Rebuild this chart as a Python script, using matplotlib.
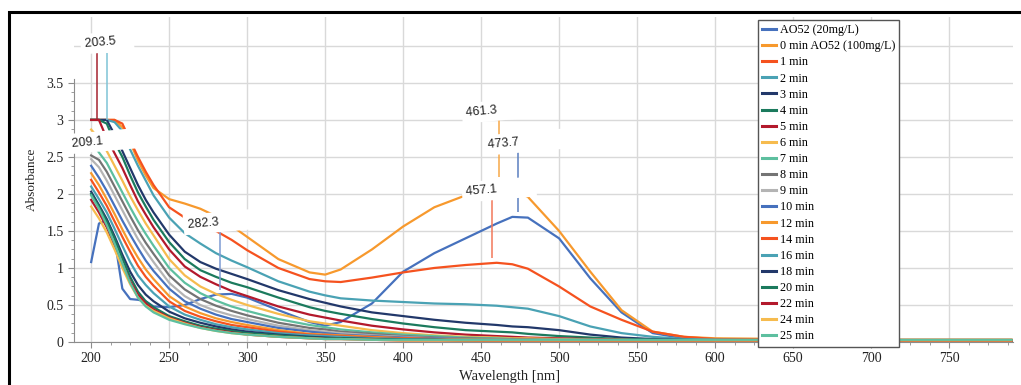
import numpy as np
import matplotlib
matplotlib.use("Agg")
import matplotlib.pyplot as plt
from matplotlib.ticker import MultipleLocator, FixedLocator, FuncFormatter
from matplotlib.patches import Rectangle

# wavelength grid (nm)
wl = [200, 205, 210, 215, 220, 225, 230, 235, 240, 250, 260, 270, 280, 290, 300,
      320, 340, 350, 360, 380, 400, 420, 440, 460, 470, 480, 500, 520, 540, 560,
      580, 600, 650, 700, 790]

ao52 = [1.08, 1.6, 1.65, 1.4, 0.72, 0.58, 0.57, 0.55, 0.48, 0.47, 0.5, 0.58, 0.64, 0.65, 0.6,
        0.43, 0.27, 0.22, 0.27, 0.52, 0.95, 1.2, 1.4, 1.6, 1.69, 1.68, 1.4, 0.86, 0.4, 0.12,
        0.05, 0.03, 0.02, 0.02, 0.02]
t0 = [3.0, 3.0, 3.0, 3.0, 2.9, 2.7, 2.45, 2.25, 2.08, 1.93, 1.87, 1.8, 1.7, 1.57, 1.42,
      1.12, 0.94, 0.91, 0.98, 1.25, 1.56, 1.82, 1.98, 2.07, 2.06, 1.96, 1.5, 0.95, 0.43, 0.14,
      0.07, 0.05, 0.04, 0.03, 0.03]
t1 = [3.0, 3.0, 3.0, 3.0, 2.95, 2.72, 2.5, 2.3, 2.12, 1.82, 1.68, 1.6, 1.5, 1.38, 1.24,
      1.0, 0.85, 0.82, 0.81, 0.87, 0.94, 1.0, 1.04, 1.07, 1.05, 0.99, 0.75, 0.48, 0.3, 0.14,
      0.07, 0.04, 0.03, 0.03, 0.03]
t2 = [3.0, 3.0, 3.0, 2.97, 2.85, 2.6, 2.38, 2.18, 1.98, 1.68, 1.47, 1.33, 1.2, 1.1, 1.01,
      0.82, 0.68, 0.63, 0.59, 0.56, 0.54, 0.52, 0.51, 0.49, 0.47, 0.45, 0.35, 0.21, 0.12, 0.07,
      0.04, 0.03, 0.02, 0.02, 0.02]
t3 = [3.0, 3.0, 3.0, 2.8, 2.58, 2.35, 2.12, 1.92, 1.75, 1.45, 1.22, 1.08, 0.99, 0.92, 0.85,
      0.7, 0.58, 0.53, 0.48, 0.4, 0.35, 0.3, 0.26, 0.23, 0.21, 0.2, 0.16, 0.1, 0.06, 0.04,
      0.03, 0.02, 0.02, 0.02, 0.02]
t4 = [3.0, 3.0, 2.95, 2.7, 2.5, 2.25, 2.02, 1.83, 1.65, 1.35, 1.12, 0.97, 0.88, 0.8, 0.74,
      0.6, 0.47, 0.42, 0.38, 0.31, 0.25, 0.2, 0.16, 0.14, 0.13, 0.11, 0.08, 0.06, 0.04, 0.03,
      0.02, 0.02, 0.02, 0.02, 0.02]
t5 = [3.0, 3.0, 2.75, 2.55, 2.35, 2.12, 1.9, 1.72, 1.55, 1.25, 1.02, 0.88, 0.78, 0.69, 0.62,
      0.48, 0.37, 0.33, 0.29, 0.22, 0.17, 0.13, 0.1, 0.08, 0.07, 0.06, 0.05, 0.04, 0.03, 0.02,
      0.02, 0.02, 0.01, 0.01, 0.01]
t6 = [2.87, 2.75, 2.58, 2.38, 2.18, 1.97, 1.78, 1.6, 1.44, 1.12, 0.9, 0.75, 0.65, 0.57, 0.5,
      0.38, 0.28, 0.25, 0.22, 0.16, 0.12, 0.09, 0.07, 0.06, 0.05, 0.05, 0.04, 0.03, 0.03, 0.02,
      0.02, 0.02, 0.02, 0.02, 0.02]
t7 = [2.7, 2.56, 2.42, 2.22, 2.02, 1.82, 1.63, 1.46, 1.3, 1.0, 0.8, 0.66, 0.56, 0.48, 0.42,
      0.31, 0.23, 0.2, 0.17, 0.13, 0.1, 0.08, 0.06, 0.05, 0.04, 0.04, 0.03, 0.03, 0.02, 0.02,
      0.02, 0.02, 0.02, 0.02, 0.02]
t8 = [2.52, 2.46, 2.3, 2.1, 1.9, 1.7, 1.51, 1.34, 1.19, 0.9, 0.71, 0.58, 0.49, 0.42, 0.36,
      0.26, 0.19, 0.17, 0.14, 0.11, 0.08, 0.06, 0.05, 0.04, 0.04, 0.03, 0.03, 0.02, 0.02, 0.02,
      0.02, 0.02, 0.02, 0.02, 0.02]
t9 = [2.47, 2.36, 2.18, 1.98, 1.78, 1.58, 1.39, 1.23, 1.08, 0.8, 0.62, 0.5, 0.42, 0.36, 0.31,
      0.22, 0.16, 0.14, 0.12, 0.09, 0.07, 0.05, 0.04, 0.04, 0.03, 0.03, 0.03, 0.02, 0.02, 0.02,
      0.02, 0.02, 0.02, 0.02, 0.02]
t10 = [2.38, 2.22, 2.04, 1.84, 1.64, 1.45, 1.27, 1.1, 0.96, 0.72, 0.55, 0.45, 0.37, 0.31, 0.27,
       0.19, 0.14, 0.12, 0.1, 0.08, 0.06, 0.05, 0.04, 0.03, 0.03, 0.03, 0.02, 0.02, 0.02, 0.02,
       0.02, 0.02, 0.02, 0.02, 0.02]
t12 = [2.28, 2.12, 1.93, 1.73, 1.52, 1.32, 1.14, 0.98, 0.85, 0.62, 0.48, 0.39, 0.32, 0.27, 0.23,
       0.16, 0.11, 0.1, 0.09, 0.07, 0.05, 0.04, 0.04, 0.03, 0.03, 0.03, 0.03, 0.02, 0.02, 0.02,
       0.02, 0.02, 0.02, 0.02, 0.02]
t14 = [2.19, 2.02, 1.84, 1.63, 1.42, 1.22, 1.03, 0.88, 0.76, 0.55, 0.42, 0.34, 0.28, 0.23, 0.2,
       0.14, 0.1, 0.09, 0.08, 0.06, 0.05, 0.04, 0.03, 0.03, 0.03, 0.03, 0.02, 0.02, 0.02, 0.02,
       0.02, 0.02, 0.02, 0.02, 0.02]
t16 = [2.1, 1.93, 1.75, 1.53, 1.3, 1.08, 0.9, 0.77, 0.66, 0.48, 0.37, 0.3, 0.24, 0.2, 0.17,
       0.12, 0.09, 0.08, 0.07, 0.05, 0.04, 0.03, 0.03, 0.03, 0.03, 0.02, 0.02, 0.02, 0.02, 0.02,
       0.02, 0.02, 0.02, 0.02, 0.02]
t18 = [2.03, 1.85, 1.66, 1.43, 1.18, 0.95, 0.77, 0.64, 0.55, 0.41, 0.32, 0.26, 0.21, 0.17, 0.14,
       0.1, 0.07, 0.06, 0.05, 0.04, 0.03, 0.03, 0.02, 0.02, 0.02, 0.02, 0.02, 0.02, 0.02, 0.02,
       0.02, 0.02, 0.02, 0.02, 0.02]
t20 = [2.0, 1.83, 1.63, 1.4, 1.13, 0.88, 0.68, 0.55, 0.47, 0.35, 0.28, 0.22, 0.18, 0.15, 0.12,
       0.09, 0.06, 0.05, 0.05, 0.04, 0.03, 0.03, 0.02, 0.02, 0.02, 0.02, 0.02, 0.02, 0.02, 0.02,
       0.02, 0.02, 0.02, 0.02, 0.02]
t22 = [1.92, 1.75, 1.55, 1.3, 1.05, 0.82, 0.64, 0.52, 0.44, 0.33, 0.26, 0.2, 0.16, 0.13, 0.1,
       0.07, 0.05, 0.04, 0.04, 0.03, 0.02, 0.02, 0.02, 0.01, 0.01, 0.01, 0.01, 0.01, 0.01, 0.01,
       0.01, 0.01, 0.01, 0.01, 0.01]
t24 = [1.83, 1.67, 1.48, 1.25, 1.0, 0.78, 0.6, 0.49, 0.42, 0.32, 0.25, 0.19, 0.15, 0.12, 0.1,
       0.07, 0.05, 0.04, 0.04, 0.03, 0.02, 0.02, 0.02, 0.02, 0.02, 0.02, 0.02, 0.02, 0.02, 0.02,
       0.02, 0.02, 0.02, 0.02, 0.02]
t25 = [1.98, 1.8, 1.58, 1.33, 1.06, 0.8, 0.6, 0.48, 0.4, 0.3, 0.24, 0.19, 0.15, 0.12, 0.1,
       0.07, 0.05, 0.04, 0.04, 0.03, 0.03, 0.03, 0.03, 0.03, 0.03, 0.03, 0.03, 0.03, 0.03, 0.03,
       0.03, 0.03, 0.03, 0.03, 0.03]

series = [ao52, t0, t1, t2, t3, t4, t5, t6, t7, t8, t9, t10, t12, t14, t16, t18, t20, t22, t24, t25]
labels = ["AO52 (20mg/L)", "0 min AO52 (100mg/L)", "1 min", "2 min", "3 min", "4 min", "5 min",
          "6 min", "7 min", "8 min", "9 min", "10 min", "12 min", "14 min", "16 min", "18 min",
          "20 min", "22 min", "24 min", "25 min"]

# peak markers: wavelength, bottom, top
peak_x = [203.5, 210.0, 282.3, 461.3, 473.7, 457.1]
peak_lo = [3.0, 3.0, 0.70, 2.23, 1.76, 1.14]
peak_hi = [3.9, 3.9, 1.55, 3.03, 2.57, 1.96]

# colour cycle of the original software (11 colours)
pal = ["#4671bd", "#f7992d", "#f5521f", "#4aa2b4", "#22386a", "#1b7a5d",
       "#b3192c", "#f6bb4e", "#5dbf9f", "#747474", "#b4b4b4"]
colors = [pal[i % len(pal)] for i in range(len(series))]
peak_col = ["#a5232f", "#7fc3d6", "#7d9bd3", "#f7a848", "#5a7fc0", "#f3785a"]

serif = "Liberation Serif"
sans = "Liberation Sans"
gridc = "#d9d9d9"

fig = plt.figure(figsize=(10.21, 3.85), dpi=100)
ax = fig.add_axes([74/1021, 1-342/385, (1013-74)/1021, (342-17)/385])

for y, lab, c in zip(series, labels, colors):
    ax.plot(wl, y, color=c, lw=1.6, label=lab, zorder=2, solid_joinstyle="round")

for x, lo, hi, c in zip(peak_x, peak_lo, peak_hi, peak_col):
    ax.vlines(x, lo, hi, color=c, lw=1.1, zorder=2.5)

box = dict(fc="white", ec="none", pad=3)
txt = dict(family=sans, fontsize=9, color="#222222", rotation=5, zorder=3,
           ha="left", va="center", bbox=box)
ax.text(195.5, 4.05, "203.5    ", **txt)
ax.text(187.5, 2.72, "209.1            ", **txt)
ax.text(261.5, 1.62, "282.3         ", **txt)
ax.text(440.0, 3.12, "461.3      ", **txt)
ax.text(454.0, 2.70, "473.7            ", **txt)
ax.text(440.0, 2.06, "457.1          ", **txt)

ax.set_xlim(189, 791)
ax.set_ylim(0, 4.39)
ax.xaxis.set_major_locator(MultipleLocator(50))
ax.xaxis.set_minor_locator(MultipleLocator(12.5))
ax.yaxis.set_major_locator(FixedLocator(np.arange(0, 3.51, 0.5)))
ax.yaxis.set_minor_locator(FixedLocator(np.arange(0, 3.51, 0.125)))
ax.yaxis.set_major_formatter(FuncFormatter(lambda v, p: "%g" % v))
ax.set_xticks(np.arange(200, 751, 50))

ax.grid(True, which="major", color=gridc, lw=1.0, zorder=0)
ax.axhline(4.0, color=gridc, lw=1.0, zorder=0)
ax.set_axisbelow(True)

for s in ["top", "right"]:
    ax.spines[s].set_visible(False)
ax.spines["left"].set_bounds(0, 3.55)
ax.spines["left"].set_color("#8c8c8c")
ax.spines["bottom"].set_color("#8c8c8c")
ax.tick_params(which="both", direction="out", color="#8c8c8c", labelcolor="#222222")
ax.tick_params(which="major", length=4, labelsize=10)
ax.tick_params(which="minor", length=2.5)
for t in ax.get_xticklabels() + ax.get_yticklabels():
    t.set_family(serif)

ax.set_xlabel("Wavelength [nm]", family=serif, fontsize=10.5, color="#222222")
ax.xaxis.set_label_coords(0.464, -0.085)
ax.set_ylabel("Absorbance", family=serif, fontsize=9.5, color="#222222")
ax.yaxis.set_label_coords(-0.038, 0.5)

leg = fig.legend(loc="upper left", bbox_to_anchor=(758/1021, 1-20/385), borderaxespad=0,
                 prop={"family": serif, "size": 8.7}, frameon=True, fancybox=False,
                 edgecolor="#555555", framealpha=1, handlelength=1.1, handletextpad=0.35,
                 labelspacing=0.34, borderpad=0.35)
leg.get_frame().set_linewidth(1.0)
for h in leg.get_lines():
    h.set_linewidth(2.2)

# black frame round the whole chart
fig.patches.append(Rectangle((9/1021, -0.2), 1.2, 1.2 - 12/385, transform=fig.transFigure,
                             fill=False, ec="black", lw=2.2, clip_on=False))

fig.savefig("out.png", dpi=100)
